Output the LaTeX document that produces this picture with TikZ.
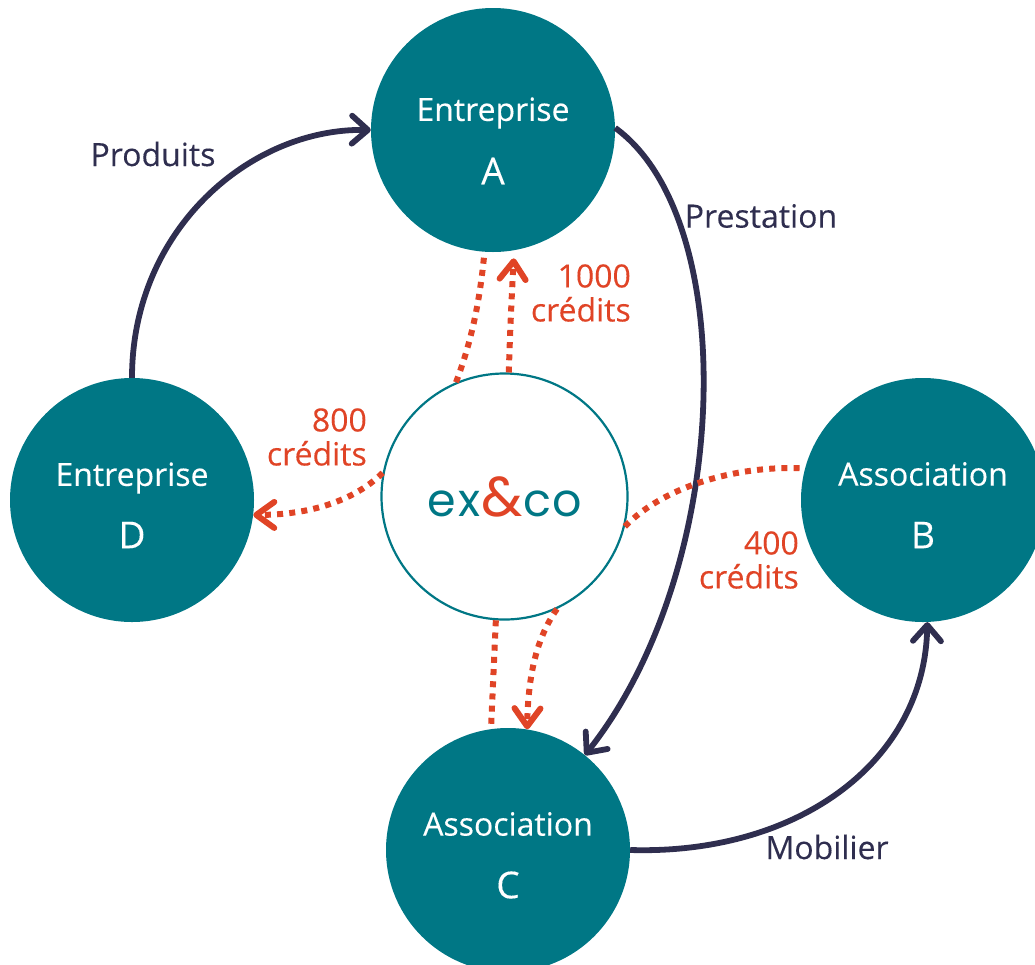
\documentclass[tikz,border=0pt]{standalone}
\usepackage{fontspec}
\setmainfont{Open Sans}[FakeBold=0.25]
\usetikzlibrary{arrows.meta}
\definecolor{teal}{HTML}{007785}
\definecolor{ink}{HTML}{2F2E4F}
\definecolor{rouge}{HTML}{E04426}
\newfontfamily\logofont{Poppins}
\tikzset{
  x=1pt,y=-1pt,
  org/.style={circle,fill=teal,minimum size=244pt,inner sep=0pt},
  hub/.style={circle,draw=teal,line width=2.2pt,fill=white,minimum size=246pt,inner sep=0pt},
  nm/.style={text=white,font=\fontsize{32}{32}\selectfont,inner sep=0pt},
  nl/.style={text=white,font=\fontsize{37}{37}\selectfont,inner sep=0pt},
  flow/.style={draw=ink,line width=5.8pt,-{Straight Barb[length=16pt,width=28pt,line width=5.8pt,round]}},
  credit/.style={draw=rouge,line width=6pt,dash pattern=on 6pt off 6.2pt},
  creditarrow/.style={credit,-{Straight Barb[length=18pt,width=26pt,line width=6pt,round,sep=0pt]}},
  lab/.style={text=ink,font=\fontsize{32}{32}\selectfont,inner sep=0pt},
  clab/.style={text=rouge,font=\fontsize{32}{34}\selectfont,inner sep=0pt,align=right},
}
\begin{document}
\begin{tikzpicture}
\useasboundingbox (0,0) rectangle (1035,964);
\clip (0,0) rectangle (1035,964);
\node[org] (A) at (493,130) {};
\node[org] (D) at (132,500) {};
\node[org] (B) at (923,500) {};
\node[org] (C) at (508,850) {};
\node[hub] (X) at (504.5,496.5) {};
\node[nm] (At) at (493,113) {Entreprise};
\node[nl] (Al) at (493,171) {A};
\node[nm] (Dt) at (132,478) {Entreprise};
\node[nl] (Dl) at (132,535) {D};
\node[nm] (Bt) at (923,474) {Association};
\node[nl] (Bl) at (923,535) {B};
\node[nm] (Ct) at (508,824) {Association};
\node[nl] (Cl) at (508,885) {C};
\node[inner sep=0pt] (logo) at (505,497) {\logofont\fontsize{46}{46}\selectfont\textcolor{teal}{e\kern2pt x\kern1pt}\textcolor{rouge}{\fontsize{56}{56}\selectfont\&}\textcolor{teal}{\kern1pt c\kern1pt o}};
\node[lab] (p1) at (153,154) {Produits};
\node[lab] (p2) at (761,216) {Prestation};
\node[lab] (p3) at (827,847) {Mobilier};
\node[clab,anchor=east] (c1) at (631,293) {1000\\crédits};
\node[clab,anchor=east] (c2) at (367,437) {800\\crédits};
\node[clab,anchor=east] (c3) at (799,560) {400\\crédits};
\draw[flow] (D.90) .. controls (132,230) and (250,128) .. (A.180);
\draw[flow] (A.1) .. controls (742,220) and (732,570) .. (C.51.5);
\draw[flow] (C.0) .. controls (800,855) and (925,760) .. (B.-88);
\draw[credit] (X.113.5) .. controls (472,340) and (480,300) .. (A.266);
\draw[creditarrow,shorten >=8pt] (X.88) .. controls (510,330) and (512,290) .. (A.-80.7);
\draw[creditarrow] (X.169) .. controls (350,505) and (300,515) .. (D.-7.5);
\draw[credit] (X.-14) .. controls (665,485) and (740,465) .. (B.165);
\draw[credit] (X.-94) -- (C.98.4);
\draw[creditarrow] (X.-65) .. controls (535,640) and (528,680) .. (C.81);
\end{tikzpicture}
\end{document}
